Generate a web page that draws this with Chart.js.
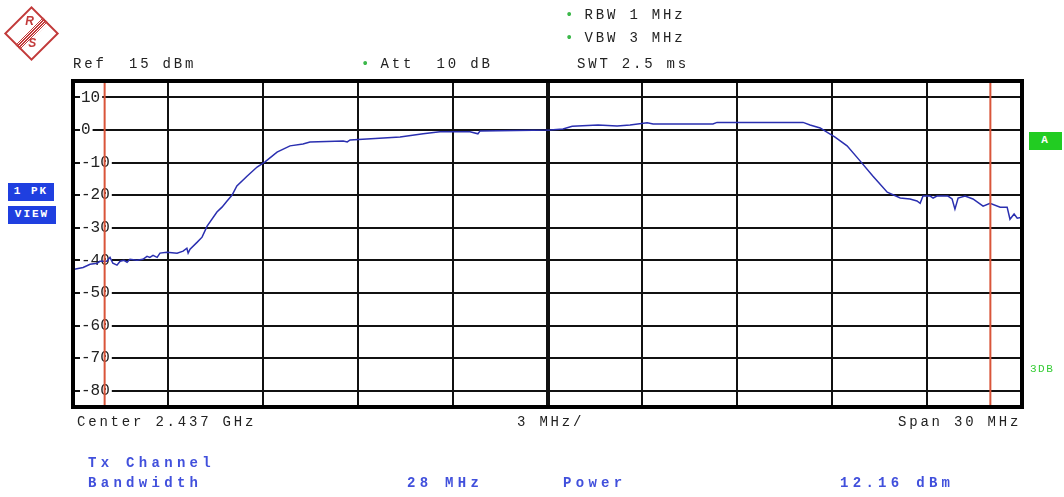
<!DOCTYPE html>
<html>
<head>
<meta charset="utf-8">
<script src="https://cdn.jsdelivr.net/npm/chart.js@4.4.1/dist/chart.umd.min.js"></script>
<style>
  body { margin: 0; background: #fff; }
  #wrap { position: relative; width: 1064px; height: 497px; overflow: hidden; }
  #c { position: absolute; left: 0; top: 0; }
  .t { position: absolute; font-family: "Liberation Mono", monospace; font-size: 14px;
       letter-spacing: 2.8px; color: #222; white-space: pre; line-height: 15px; }
  .b { color: #4150dc; font-weight: bold; letter-spacing: 4.3px; }
  .dot { color: #3cb84a; letter-spacing: 0; }
  .box { position: absolute; background: #1f3fe0; color: #fff; font-family: "Liberation Mono", monospace;
         font-size: 11px; font-weight: bold; letter-spacing: 2px; text-align: center; line-height: 17px; }
  .logo { position: absolute; left: 12px; top: 14px; width: 35px; height: 35px; border: 2px solid #c23a3a;
          transform: rotate(45deg); }
  .logo .s { position: absolute; left: 14px; top: -2px; width: 8px; height: 39px;
             background: repeating-linear-gradient(90deg, #c23a3a 0 1px, transparent 1px 2px); }
  .logo span { position: absolute; transform: rotate(-45deg); color: #c23a3a; font: italic bold 12px "Liberation Sans", sans-serif; }
</style>
</head>
<body>
<div id="wrap">
  <canvas id="c" width="1064" height="497"></canvas>
  <div class="logo"><div class="s"></div><span style="left:3px;top:3px">R</span><span style="left:21px;top:17px">S</span></div>

  <div class="t" style="left:73px;top:57px">Ref  15 dBm</div>
  <div class="t" style="left:361px;top:57px"><span class="dot">•</span> Att  10 dB</div>
  <div class="t" style="left:565px;top:8px"><span class="dot">•</span> RBW 1 MHz</div>
  <div class="t" style="left:565px;top:31px"><span class="dot">•</span> VBW 3 MHz</div>
  <div class="t" style="left:577px;top:57px">SWT 2.5 ms</div>

  <div class="box" style="left:8px;top:183px;width:46px;height:18px">1 PK</div>
  <div class="box" style="left:8px;top:206px;width:48px;height:18px">VIEW</div>
  <div class="box" style="left:1029px;top:132px;width:33px;height:18px;background:#22cc22">A</div>
  <div class="t" style="left:1030px;top:362px;color:#33cc33;font-size:11px;letter-spacing:1.5px">3DB</div>

  <div class="t" style="left:77px;top:415px">Center 2.437 GHz</div>
  <div class="t" style="left:517px;top:415px">3 MHz/</div>
  <div class="t" style="left:898px;top:415px">Span 30 MHz</div>

  <div class="t b" style="left:88px;top:456px">Tx Channel</div>
  <div class="t b" style="left:88px;top:476px">Bandwidth</div>
  <div class="t b" style="left:407px;top:476px">28 MHz</div>
  <div class="t b" style="left:563px;top:476px">Power</div>
  <div class="t b" style="left:840px;top:476px">12.16 dBm</div>
</div>
<script>
// span settings (offset from center 2.437 GHz, MHz) and level range (dBm)
var spanMHz = [-15, 15];
var levelRange = [-85, 15];
var levelTicks = [10, 0, -10, -20, -30, -40, -50, -60, -70, -80];
var channelEdgesMHz = [-14, 14];

// trace 1 (PK, view)
var freqMHz = [-15.00, -14.68, -14.46, -14.24, -14.15, -13.93, -13.83, -13.74, -13.61, -13.51,
  -13.39, -13.29, -13.20, -12.98, -12.79, -12.66, -12.57, -12.47, -12.34, -12.25,
  -12.03, -11.71, -11.52, -11.40, -11.36, -11.30, -11.08, -10.92, -10.76, -10.45,
  -10.29, -10.13, -9.97, -9.82, -9.50, -9.18, -8.93, -8.55, -8.14, -7.73,
  -7.51, -6.46, -6.33, -6.24, -5.71, -4.66, -3.93, -3.40, -2.45, -2.20,
  -2.13, 0.08, 0.49, 0.78, 1.60, 2.20, 2.61, 3.15, 3.34, 5.23,
  5.36, 8.08, 8.30, 8.62, 8.87, 9.09, 9.47, 9.88, 10.29, 10.74,
  11.15, 11.46, 11.68, 11.78, 11.87, 12.10, 12.19, 12.31, 12.66, 12.79,
  12.88, 12.98, 13.20, 13.45, 13.77, 13.99, 14.31, 14.53, 14.62, 14.75,
  14.85, 15.00];
var levelDbm = [-42.8, -42.2, -41.2, -40.9, -40.3, -40.3, -39.1, -40.9, -41.5, -40.3,
  -40.0, -40.6, -39.7, -40.0, -39.7, -38.8, -39.1, -38.5, -39.1, -37.8,
  -37.5, -37.8, -37.2, -36.3, -37.8, -36.6, -34.5, -32.9, -29.5, -25.2,
  -23.7, -21.8, -20.0, -17.2, -14.2, -11.4, -9.8, -6.8, -4.9, -4.3,
  -3.7, -3.4, -3.7, -3.1, -2.8, -2.2, -1.2, -0.6, -0.6, -1.2,
  -0.3, 0.0, 0.3, 1.1, 1.5, 1.2, 1.5, 2.2, 1.8, 1.8,
  2.3, 2.3, 1.5, 0.6, -0.9, -2.2, -4.9, -9.5, -14.2, -19.1,
  -20.9, -21.2, -21.8, -22.5, -20.3, -20.3, -20.9, -20.3, -20.3, -21.2,
  -24.3, -20.9, -20.3, -21.2, -23.4, -22.5, -23.7, -23.7, -27.4, -25.8,
  -27.1, -26.8];

var trace = freqMHz.map(function (f, i) { return { x: f, y: levelDbm[i] }; });

var edgeSets = channelEdgesMHz.map(function (f) {
    return {
        data: [{ x: f, y: levelRange[0] }, { x: f, y: levelRange[1] }],
        borderColor: '#d9553a',
        borderWidth: 2,
        pointRadius: 0
    };
});

// thick frame around the diagram
var frame = {
    id: 'frame',
    afterDraw: function (chart) {
        var a = chart.chartArea, ctx = chart.ctx;
        ctx.save();
        ctx.strokeStyle = '#000';
        ctx.lineWidth = 4;
        ctx.strokeRect(a.left, a.top, a.right - a.left, a.bottom - a.top);
        ctx.restore();
    }
};

var ctx = document.getElementById('c').getContext('2d');
var chart = new Chart(ctx, {
    type: 'line',
    data: {
        datasets: edgeSets.concat([{
            data: trace,
            borderColor: '#2a2fb0',
            borderWidth: 1.5,
            pointRadius: 0,
            tension: 0
        }])
    },
    options: {
        responsive: false,
        animation: false,
        layout: { padding: { left: 57, top: 81, right: 42, bottom: 90 } },
        plugins: { legend: { display: false }, tooltip: { enabled: false } },
        scales: {
            x: {
                type: 'linear',
                min: spanMHz[0],
                max: spanMHz[1],
                ticks: { display: false, stepSize: 3 },
                grid: {
                    color: '#111',
                    drawTicks: false,
                    lineWidth: function (c) { return c.tick && c.tick.value === 0 ? 4 : 2; }
                },
                border: { display: false }
            },
            y: {
                min: levelRange[0],
                max: levelRange[1],
                afterBuildTicks: function (axis) {
                    axis.ticks = levelTicks.map(function (v) { return { value: v }; });
                },
                ticks: {
                    mirror: true,
                    padding: 8,
                    color: '#222',
                    font: { family: 'Liberation Mono', size: 16 },
                    showLabelBackdrop: true,
                    backdropColor: '#fff',
                    backdropPadding: { left: 1, right: 2, top: 0, bottom: 0 }
                },
                grid: { color: '#111', lineWidth: 2, drawTicks: false },
                border: { display: false }
            }
        }
    },
    plugins: [frame]
});
</script>
</body>
</html>
